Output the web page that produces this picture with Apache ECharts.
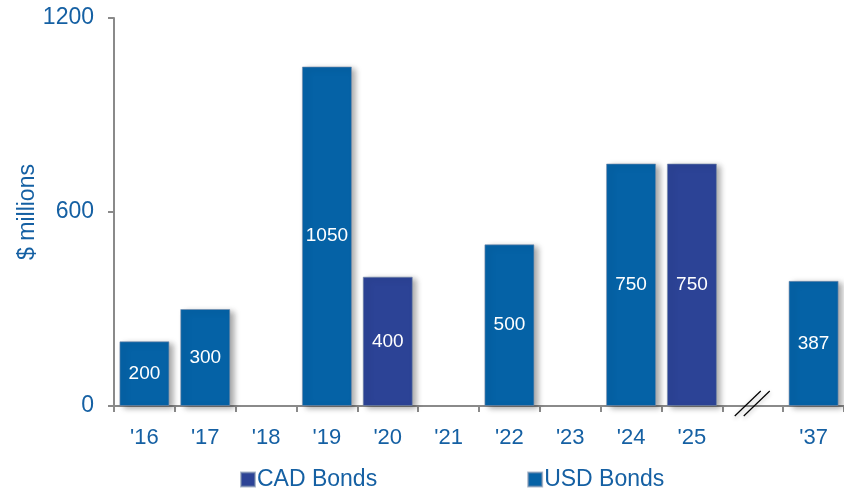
<!DOCTYPE html>
<html>
<head>
<meta charset="utf-8">
<script src="https://cdn.jsdelivr.net/npm/echarts@6/dist/echarts.min.js"></script>
<style>
html,body{margin:0;padding:0;background:#fff;}
#main{width:844px;height:489px;}
</style>
</head>
<body>
<div id="main"></div>
<script>
var years = ["'16","'17","'18","'19","'20","'21","'22","'23","'24","'25","","'37"];
var cadBonds = [null,null,null,null,400,null,null,null,null,750,null,null];
var usdBonds = [200,300,null,1050,null,null,500,null,750,null,null,387];
var yTicks = [0,600,1200];

var blue = '#0562A6';
var navy = '#2C4396';
var textColor = '#1560A3';

var myChart = echarts.init(document.getElementById('main'));

var barStyle = function(c){
    return {
        color: c,
        borderColor: 'rgba(120,140,170,0.6)',
        borderWidth: 1,
        shadowColor: 'rgba(0,0,0,0.35)',
        shadowBlur: 6,
        shadowOffsetX: 4,
        shadowOffsetY: 2
    };
};
var labelStyle = {
    show: true,
    position: 'inside',
    color: '#fff',
    fontSize: 19,
    fontFamily: 'Liberation Sans'
};

var option = {
    animation: false,
    textStyle: { fontFamily: 'Liberation Sans' },
    grid: { left: 114, right: 0, top: 18, bottom: 83 },
    legend: {
        bottom: -7,
        left: 235,
        itemGap: 150,
        itemWidth: 14,
        itemHeight: 14,
        icon: 'rect',
        textStyle: { color: textColor, fontSize: 23, padding: [0,0,0,-3] },
        data: ['CAD Bonds','USD Bonds']
    },
    xAxis: {
        type: 'category',
        data: years,
        axisLine: { lineStyle: { color: '#8a8a8a', width: 2 } },
        axisTick: { show: true, length: 6, lineStyle: { color: '#8a8a8a', width: 2 } },
        axisLabel: { color: textColor, fontSize: 22, margin: 21, interval: 0 }
    },
    yAxis: {
        type: 'value',
        min: 0,
        max: 1200,
        interval: 600,
        name: '$ millions',
        nameLocation: 'middle',
        nameRotate: 90,
        nameGap: 75,
        nameMoveOverlap: false,
        nameTextStyle: { color: textColor, fontSize: 23 },
        axisLine: { show: true, lineStyle: { color: '#8a8a8a', width: 2 } },
        axisTick: { show: true, length: 6, lineStyle: { color: '#8a8a8a', width: 2 } },
        axisLabel: { color: textColor, fontSize: 23, margin: 20,
            formatter: function(v){ return yTicks.indexOf(v) >= 0 ? String(v) : ''; } },
        splitLine: { show: false }
    },
    series: [
        {
            name: 'CAD Bonds',
            type: 'bar',
            stack: 'total',
            barWidth: 50,
            data: cadBonds,
            itemStyle: barStyle(navy),
            label: labelStyle
        },
        {
            name: 'USD Bonds',
            type: 'bar',
            stack: 'total',
            barWidth: 50,
            data: usdBonds,
            itemStyle: barStyle(blue),
            label: labelStyle
        }
    ]
};
myChart.setOption(option);

// axis break marks in the blank category
var p = myChart.convertToPixel({ xAxisIndex: 0, yAxisIndex: 0 }, [10, 0]);
var slash = function(dx){
    return {
        type: 'line',
        shape: { x1: p[0] - 18 + dx, y1: p[1] + 10, x2: p[0] + 8 + dx, y2: p[1] - 15 },
        style: { stroke: '#000', lineWidth: 1.2, shadowColor: 'rgba(0,0,0,0.3)', shadowBlur: 4, shadowOffsetY: 2 },
        z: 100
    };
};
myChart.setOption({
    graphic: [
        slash(0),
        slash(9)
    ]
});
</script>
</body>
</html>
